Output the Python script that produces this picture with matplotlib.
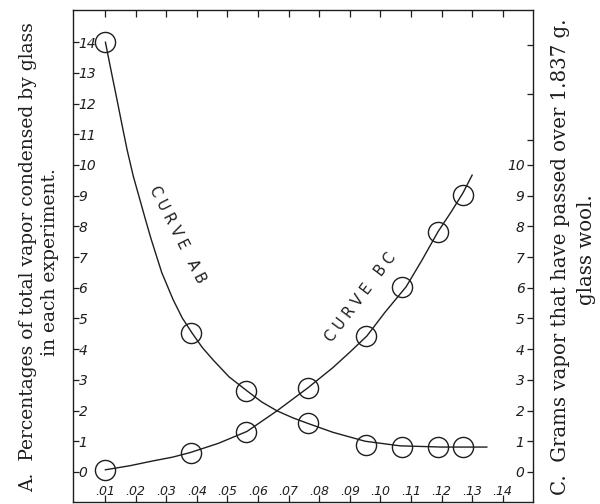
import matplotlib
matplotlib.use('Agg')
import matplotlib.pyplot as plt

# ---- data ----
x_pts = [0.0101, 0.0380, 0.0562, 0.0763, 0.0953, 0.1070, 0.1190, 0.1270]
ab_pts = [14.0, 4.53, 2.64, 1.60, 0.88, 0.81, 0.81, 0.81]
bc_pts = [0.07, 0.62, 1.30, 2.74, 4.43, 6.03, 7.82, 9.02]

ab_curve_x = [0.0101, 0.0120, 0.0139, 0.0155, 0.0172, 0.0192, 0.0214, 0.0232,
              0.0250, 0.0285, 0.0322, 0.0352, 0.0384, 0.0418, 0.0453, 0.0505, 0.0564,
              0.0612, 0.0662, 0.0712, 0.0763, 0.0845, 0.0950, 0.1064, 0.1200, 0.1348]
ab_curve_y = [14.0, 13.05, 12.12, 11.32, 10.49, 9.64, 8.86, 8.22,
              7.60, 6.50, 5.62, 5.02, 4.53, 4.05, 3.65, 3.10, 2.64,
              2.28, 1.99, 1.77, 1.58, 1.29, 1.00, 0.85, 0.81, 0.81]

bc_curve_x = [0.0101, 0.0180, 0.0257, 0.0320, 0.0378, 0.0470, 0.0564, 0.0662, 0.0763,
              0.0845, 0.0900, 0.0956, 0.1015, 0.1084, 0.1136, 0.1188, 0.1230, 0.1270, 0.1300]
bc_curve_y = [0.07, 0.20, 0.36, 0.48, 0.63, 0.93, 1.32, 1.99, 2.74,
              3.40, 3.90, 4.43, 5.20, 6.03, 6.90, 7.82, 8.45, 9.09, 9.67]

x_ticks = [0.01, 0.02, 0.03, 0.04, 0.05, 0.06, 0.07, 0.08, 0.09, 0.10, 0.11, 0.12, 0.13, 0.14]
x_tick_labels = ['.01', '.02', '.03', '.04', '.05', '.06', '.07', '.08', '.09', '.10',
                 '.11', '.12', '.13', '.14']
left_ticks = list(range(0, 15))
left_tick_labels = [str(v) for v in left_ticks]
right_ticks = list(range(0, 11))
right_tick_labels = [str(v) for v in right_ticks]
right_extra_ticks = [10.8, 12.3, 13.9]

left_title_1 = 'A.  Percentages of total vapor condensed by glass'
left_title_2 = 'in each experiment.'
right_title_1 = 'C.  Grams vapor that have passed over 1.837 g.'
right_title_2 = 'glass wool.'
curve_ab_label = 'C U R V E   A B'
curve_bc_label = 'C U R V E   B C'

ink = '#1e1e1e'

fig = plt.figure(figsize=(6, 5.04), dpi=100)
fig.patch.set_facecolor('white')
ax = fig.add_axes([73 / 600, 2 / 504, 460 / 600, 492 / 504])
ax.set_xlim(-0.0005, 0.1499)
ax.set_ylim(-0.98, 15.05)

for sp in ax.spines.values():
    sp.set_color(ink)
    sp.set_linewidth(1.0)

# curves
ax.plot(ab_curve_x, ab_curve_y, color=ink, lw=1.0, solid_joinstyle='round')
ax.plot(bc_curve_x, bc_curve_y, color=ink, lw=1.0, solid_joinstyle='round')
# observed points (open circles)
ax.plot(x_pts, ab_pts, 'o', ms=14.5, mfc='none', mec=ink, mew=1.0)
ax.plot(x_pts, bc_pts, 'o', ms=14.5, mfc='none', mec=ink, mew=1.0)

tick_font = dict(family='DejaVu Sans', style='italic')

ax.set_xticks(x_ticks)
ax.set_xticklabels(x_tick_labels, fontsize=9, color=ink, **tick_font)
ax.tick_params(axis='x', direction='in', top=True, bottom=True, length=5,
               width=0.9, color=ink, pad=-12)

ax.set_yticks(left_ticks)
ax.set_yticklabels(left_tick_labels, fontsize=10, color=ink, **tick_font)
ax.tick_params(axis='y', direction='in', left=True, right=False, length=4,
               width=0.9, color=ink, pad=-4)
for lab in ax.get_yticklabels():
    lab.set_horizontalalignment('left')

ax2 = ax.twinx()
ax2.set_ylim(ax.get_ylim())
ax2.set_yticks(right_ticks + right_extra_ticks)
ax2.set_yticklabels(right_tick_labels + [''] * len(right_extra_ticks),
                    fontsize=10, color=ink, **tick_font)
ax2.tick_params(axis='y', direction='in', length=4, width=0.9, color=ink, pad=-6)
for lab in ax2.get_yticklabels():
    lab.set_horizontalalignment('right')
for sp in ax2.spines.values():
    sp.set_visible(False)

# curve labels
ax.text(0.0335, 7.72, curve_ab_label, rotation=-63, rotation_mode='anchor',
        ha='center', va='center', fontsize=10.5, color=ink, family='DejaVu Sans')
ax.text(0.0937, 5.70, curve_bc_label, rotation=53, rotation_mode='anchor',
        ha='center', va='center', fontsize=10.5, color=ink, family='DejaVu Sans')

serif = 'DejaVu Serif'
fig.text(28 / 600, 1 - 257 / 504, left_title_1, rotation=90, ha='center', va='center',
         fontsize=13.5, family=serif, color=ink)
fig.text(50 / 600, 1 - 262 / 504, left_title_2, rotation=90, ha='center', va='center',
         fontsize=13.5, family=serif, color=ink)
fig.text(561 / 600, 1 - 257 / 504, right_title_1, rotation=90, ha='center', va='center',
         fontsize=14.2, family=serif, color=ink)
fig.text(586 / 600, 1 - 250 / 504, right_title_2, rotation=90, ha='center', va='center',
         fontsize=14.2, family=serif, color=ink)

fig.savefig('out.png', dpi=100, facecolor='white')
